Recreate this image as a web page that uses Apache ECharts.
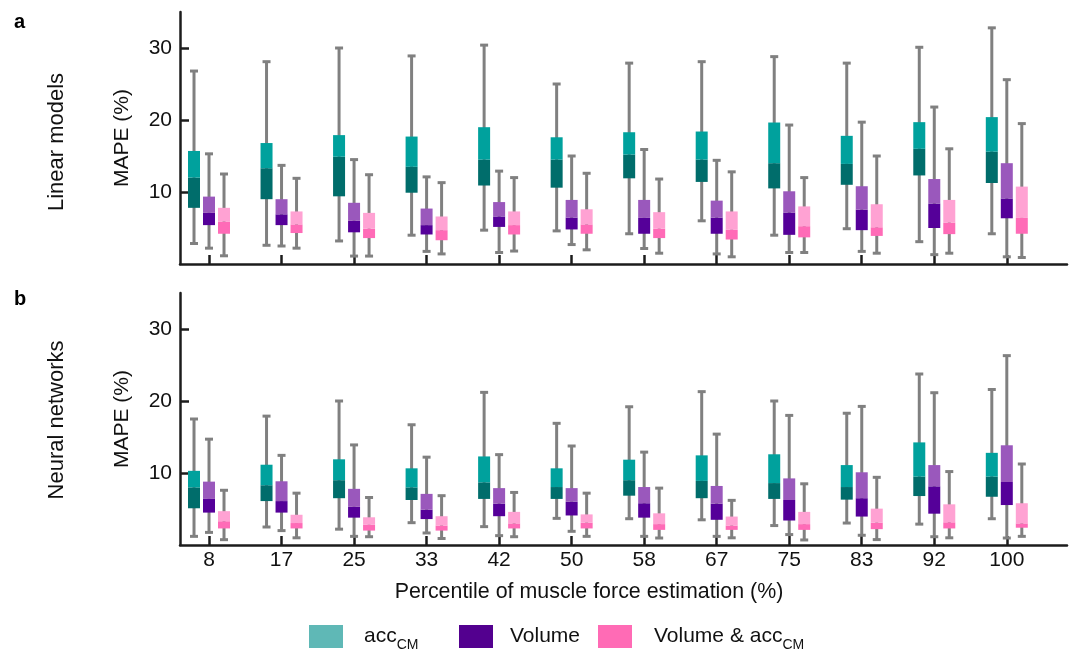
<!DOCTYPE html>
<html>
<head>
<meta charset="utf-8">
<script src="https://cdn.jsdelivr.net/npm/echarts@6/dist/echarts.min.js"></script>
<style>html,body{margin:0;padding:0;background:#fff}#c{width:1073px;height:652px}</style>
</head>
<body>
<div id="c"></div>
<script>
// Categories (percentile of muscle force estimation)
const categories = ['8','17','25','33','42','50','58','67','75','83','92','100'];
const yTicks = [10, 20, 30];
// Each entry: [whisker min, Q1, median, Q3, whisker max]  (MAPE %)
// Panel a: Linear models
const linAcc = [[2.85,7.8,12.0,15.7,26.8],[2.6,9.0,13.3,16.8,28.1],[3.2,9.4,14.9,17.9,30.0],[4.0,9.9,13.5,17.7,28.9],[4.7,10.9,14.5,19.0,30.4],[4.6,10.6,14.5,17.6,25.0],[4.2,11.9,15.2,18.3,27.9],[6.0,11.4,14.5,18.4,28.1],[4.0,10.5,14.0,19.65,28.8],[4.9,11.0,13.9,17.8,27.9],[3.1,12.3,16.0,19.7,30.1],[4.2,11.25,15.6,20.4,32.8]];
const linVol = [[2.2,5.4,7.1,9.36,15.3],[2.5,5.4,6.9,9.0,13.7],[1.1,4.4,6.0,8.5,14.5],[1.75,4.1,5.4,7.7,12.1],[1.6,5.15,6.6,8.6,12.9],[2.7,4.8,6.45,8.9,15.0],[2.15,4.2,6.4,8.9,15.9],[1.4,4.2,6.45,8.8,14.4],[1.6,4.05,7.15,10.1,19.3],[1.75,4.7,7.55,10.8,19.7],[1.3,5.0,8.4,11.8,21.8],[1.0,6.35,9.1,14.0,25.6]];
const linComb = [[1.14,4.2,5.9,7.8,12.5],[2.2,4.3,5.5,7.3,11.9],[1.1,3.6,4.9,7.1,12.4],[1.4,3.3,4.7,6.6,11.3],[1.8,4.1,5.4,7.3,12.0],[1.97,4.2,5.5,7.6,12.6],[1.5,3.6,4.9,7.2,11.8],[1.0,3.4,4.75,7.3,12.8],[1.6,3.7,5.25,8.0,12.0],[1.5,3.9,5.1,8.3,15.0],[1.5,4.15,5.75,8.9,16.0],[0.9,4.2,6.4,10.75,19.5]];
// Panel b: Neural networks
const nnAcc = [[1.2,5.1,8.0,10.3,17.5],[2.5,6.1,8.3,11.15,17.9],[2.2,6.5,9.0,11.9,20.0],[3.1,6.25,8.0,10.65,16.7],[2.55,6.4,8.7,12.3,21.2],[3.7,6.4,8.05,10.65,16.9],[3.65,6.85,9.0,11.85,19.2],[3.5,6.5,8.9,12.45,21.3],[2.7,6.4,8.6,12.6,20.0],[3.05,6.3,8.05,11.1,18.3],[2.9,6.8,9.5,14.25,23.75],[3.65,6.7,9.5,12.8,21.6]];
const nnVol = [[1.75,4.5,6.4,8.8,14.7],[2.0,4.5,6.1,8.85,12.45],[1.2,3.8,5.3,7.8,13.9],[1.67,3.6,4.9,7.1,12.2],[1.3,4.0,5.75,7.9,12.55],[1.9,4.1,6.0,7.9,13.75],[1.2,3.8,5.8,8.05,12.9],[1.2,3.5,5.75,8.2,15.4],[1.45,3.4,6.25,9.25,18.0],[1.35,3.95,6.5,10.1,19.25],[1.15,4.35,8.15,11.1,21.15],[0.97,5.55,8.75,13.85,26.3]];
const nnComb = [[0.74,2.3,3.3,4.7,7.6],[1.0,2.3,3.05,4.2,7.2],[1.15,2.0,2.8,3.85,6.6],[0.9,2.0,2.7,4.0,6.85],[1.15,2.3,3.0,4.6,7.3],[1.2,2.3,3.1,4.25,7.2],[0.97,2.1,2.9,4.4,7.9],[1.0,2.1,2.7,3.95,6.2],[0.7,2.1,2.9,4.6,8.5],[0.75,2.2,3.1,5.05,9.4],[1.0,2.3,3.15,5.65,10.2],[1.2,2.4,3.0,5.8,11.25]];

const FONT = 'Liberation Sans, Arial, Helvetica, sans-serif';
const AX = '#1c1c1c';
const GRAY = '#808080';
const styles = {
  acc:  {name:'accCM', light:'#00A19D', dark:'#006D6B', legend:'#5FB8B6', off:-15},
  vol:  {name:'Volume', light:'#9A58BC', dark:'#550099', legend:'#53008F', off:0},
  comb: {name:'Volume & accCM', light:'#FFA2D3', dark:'#FF6BB7', legend:'#FF6BB5', off:15}
};

function makeRender(st) {
  return function (params, api) {
    const x = api.value(0);
    const cx = api.coord([x, 0])[0] + st.off;
    const y = i => api.coord([x, api.value(i)])[1];
    const yMin = y(1), yQ1 = y(2), yMed = y(3), yQ3 = y(4), yMax = y(5);
    const bw = 12, cw = 8;
    const ls = {stroke: GRAY, lineWidth: 3};
    return {type: 'group', children: [
      {type: 'line', shape: {x1: cx, y1: yMin, x2: cx, y2: yMax}, style: ls},
      {type: 'line', shape: {x1: cx - cw/2, y1: yMax, x2: cx + cw/2, y2: yMax}, style: ls},
      {type: 'line', shape: {x1: cx - cw/2, y1: yMin, x2: cx + cw/2, y2: yMin}, style: ls},
      {type: 'rect', shape: {x: cx - bw/2, y: yMed, width: bw, height: yQ1 - yMed}, style: {fill: st.dark}},
      {type: 'rect', shape: {x: cx - bw/2, y: yQ3, width: bw, height: yMed - yQ3}, style: {fill: st.light}}
    ]};
  };
}

function series(st, arr, gi) {
  return {
    type: 'custom', name: st.name, xAxisIndex: gi, yAxisIndex: gi,
    itemStyle: {color: st.legend},
    renderItem: makeRender(st),
    encode: {x: 0, y: [1, 5]},
    data: arr.map((v, i) => [i + 1].concat(v))
  };
}

const tickIdx = categories.map((c, i) => i + 1);
function xAxis(gi, showLabels) {
  return {
    type: 'value', gridIndex: gi, min: 0.6, max: 12.83,
    axisLine: {show: true, lineStyle: {color: AX, width: 2.5}},
    axisTick: {show: true, inside: true, length: 9, lineStyle: {color: AX, width: 2.5}, customValues: tickIdx},
    axisLabel: {show: showLabels, customValues: tickIdx, margin: 5, fontSize: 21, color: '#111', fontFamily: FONT,
      formatter: v => categories[Math.round(v) - 1]},
    splitLine: {show: false}
  };
}
function yAxis(gi) {
  return {
    type: 'value', gridIndex: gi, min: 0, max: 35,
    name: 'MAPE (%)', nameLocation: 'middle', nameGap: 47,
    nameTextStyle: {fontSize: 21, color: '#111', fontFamily: FONT},
    axisLine: {show: true, lineStyle: {color: AX, width: 2.5}},
    axisTick: {show: true, inside: true, length: 9, lineStyle: {color: AX, width: 2.5}, customValues: yTicks},
    axisLabel: {customValues: yTicks, margin: 8, fontSize: 21, color: '#111', fontFamily: FONT},
    splitLine: {show: false}
  };
}

function legend(st, left, gap) {
  return {
    data: [st.name], left: left, top: 620, icon: 'rect', itemWidth: 34, itemHeight: 23,
    selectedMode: false,
    formatter: n => n === 'accCM' ? '{m|acc}{s|CM}' : (n === 'Volume & accCM' ? '{m|Volume & acc}{s|CM}' : '{m|' + n + '}'),
    textStyle: {padding: [0, 0, 0, gap], rich: {
      m: {fontSize: 21, color: '#111', fontFamily: FONT, lineHeight: 26},
      s: {fontSize: 14, color: '#111', fontFamily: FONT, lineHeight: 14, verticalAlign: 'bottom', padding: [0, 0, -3, 0]}
    }}
  };
}

const chart = echarts.init(document.getElementById('c'), null, {renderer: 'canvas'});
chart.setOption({
  animation: false,
  backgroundColor: '#fff',
  grid: [
    {left: 180, right: 6, top: 12, height: 252},
    {left: 180, right: 6, top: 293, height: 252}
  ],
  xAxis: [xAxis(0, false), xAxis(1, true)],
  yAxis: [yAxis(0), yAxis(1)],
  legend: [legend(styles.acc, 304, 16), legend(styles.vol, 454, 12), legend(styles.comb, 593, 17)],
  graphic: [
    {type: 'text', left: 14, top: 12, style: {text: 'a', font: 'bold 20px ' + FONT, fill: '#000'}},
    {type: 'text', left: 14, top: 289, style: {text: 'b', font: 'bold 20px ' + FONT, fill: '#000'}},
    {type: 'text', x: 57, y: 142, rotation: Math.PI / 2, style: {text: 'Linear models', font: '22px ' + FONT, fill: '#111', align: 'center', verticalAlign: 'middle'}},
    {type: 'text', x: 57, y: 420, rotation: Math.PI / 2, style: {text: 'Neural networks', font: '22px ' + FONT, fill: '#111', align: 'center', verticalAlign: 'middle'}},
    {type: 'text', x: 589, y: 592, style: {text: 'Percentile of muscle force estimation (%)', font: '21.4px ' + FONT, fill: '#111', align: 'center', verticalAlign: 'middle'}}
  ],
  series: [
    series(styles.acc, linAcc, 0), series(styles.vol, linVol, 0), series(styles.comb, linComb, 0),
    series(styles.acc, nnAcc, 1), series(styles.vol, nnVol, 1), series(styles.comb, nnComb, 1)
  ]
});
</script>
</body>
</html>
